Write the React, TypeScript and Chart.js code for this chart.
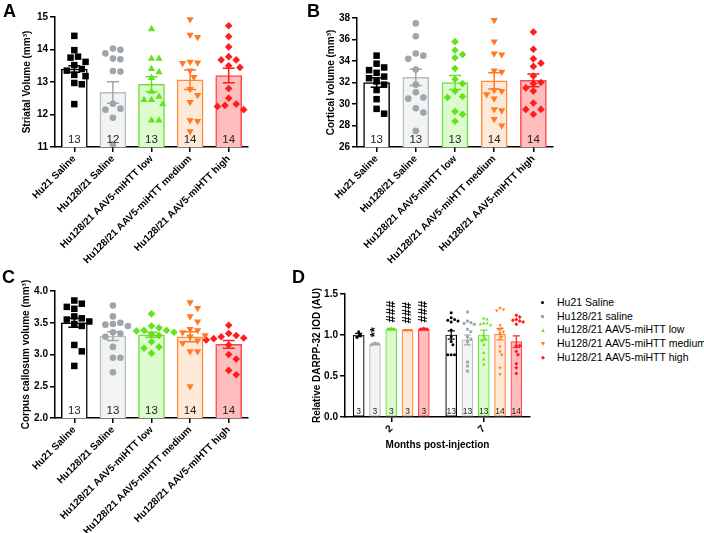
import React, { useEffect, useRef } from "react";
import { Chart, registerables } from "chart.js";
Chart.register(...registerables);

// ---------------- DATA ----------------
const groupNames = [
  "Hu21 Saline",
  "Hu128/21 Saline",
  "Hu128/21 AAV5-miHTT low",
  "Hu128/21 AAV5-miHTT medium",
  "Hu128/21 AAV5-miHTT high",
];
const legendNamesD = [
  "Hu21 Saline",
  "Hu128/21 saline",
  "Hu128/21 AAV5-miHTT low",
  "Hu128/21 AAV5-miHTT medium",
  "Hu128/21 AAV5-miHTT high",
];

// Panel A: striatal volume
const striatalMeans = [13.4, 12.68, 12.93, 13.07, 13.2];
const striatalSem = [0.1, 0.33, 0.23, 0.3, 0.22];
const striatalN = [13, 12, 13, 14, 14];
const striatalHu21 = [14.42, 13.98, 13.78, 13.75, 13.62, 13.52, 13.4, 13.35, 13.22, 13.18, 12.97, 12.93, 12.32];
const striatalSaline = [14.03, 13.99, 13.88, 13.72, 13.7, 13.34, 13.32, 12.33, 12.18, 12.15, 11.9, 11.08];
const striatalLow = [14.63, 13.72, 13.72, 13.4, 13.3, 13.13, 12.7, 12.55, 12.45, 12.45, 12.32, 11.82, 11.82];
const striatalMedium = [14.93, 14.45, 14.38, 13.62, 13.6, 13.58, 13.35, 13.15, 12.78, 12.6, 12.38, 11.82, 11.8, 11.48];
const striatalHigh = [14.73, 14.4, 14.08, 13.78, 13.68, 13.68, 13.5, 13.45, 12.8, 12.5, 12.32, 12.28, 12.25, 12.15];

// Panel B: cortical volume
const corticalMeans = [32.0, 32.48, 32.0, 32.15, 32.2];
const corticalSem = [0.45, 0.75, 0.65, 0.75, 0.6];
const corticalN = [13, 13, 13, 14, 14];
const corticalHu21 = [34.5, 33.75, 33.4, 33.15, 32.9, 32.55, 32.4, 32.1, 31.8, 31.3, 30.45, 29.55, 29.1];
const corticalSaline = [37.5, 36.3, 34.7, 34.5, 34.2, 33.2, 31.8, 31.1, 30.6, 30.5, 29.6, 29.2, 27.5];
const corticalLow = [35.8, 35.0, 34.6, 34.3, 33.3, 32.3, 31.9, 31.2, 30.7, 30.6, 29.3, 29.05, 28.4];
const corticalMedium = [37.8, 35.8, 34.7, 34.6, 33.1, 33.0, 31.3, 31.2, 30.9, 30.5, 29.5, 29.4, 28.6, 28.0];
const corticalHigh = [36.7, 35.1, 34.2, 33.8, 33.5, 32.6, 32.0, 31.9, 31.5, 31.2, 30.1, 29.5, 29.5, 29.05];

// Panel C: corpus callosum volume
const ccMeans = [3.5, 3.29, 3.31, 3.28, 3.16];
const ccSem = [0.07, 0.07, 0.04, 0.08, 0.06];
const ccN = [13, 13, 13, 14, 14];
const ccHu21 = [3.85, 3.8, 3.75, 3.72, 3.6, 3.57, 3.55, 3.52, 3.48, 3.45, 3.15, 3.05, 2.82];
const ccSaline = [3.77, 3.6, 3.5, 3.48, 3.47, 3.45, 3.35, 3.33, 3.28, 3.12, 2.95, 2.95, 2.72];
const ccLow = [3.64, 3.45, 3.42, 3.38, 3.38, 3.37, 3.35, 3.32, 3.3, 3.2, 3.12, 3.1, 3.02];
const ccMedium = [3.82, 3.73, 3.6, 3.52, 3.4, 3.38, 3.35, 3.3, 3.28, 3.22, 3.18, 3.05, 3.05, 2.5];
const ccHigh = [3.46, 3.33, 3.3, 3.28, 3.26, 3.25, 3.24, 3.23, 3.22, 3.15, 3.0, 2.93, 2.75, 2.68];

// Panel D: relative DARPP-32 IOD
const months = ["2", "7"];
const darppMeans = [[1.0, 1.0], [0.89, 0.94], [1.07, 1.0], [1.06, 1.01], [1.07, 0.92]];
const darppSem = [[0.02, 0.05], [0.01, 0.06], [0.01, 0.06], [0.006, 0.07], [0.01, 0.07]];
const darppN = [[3, 13], [3, 13], [3, 13], [3, 14], [3, 14]];
const darpp2m = [
  [1.04, 1.0, 0.97],
  [0.9, 0.88, 0.89],
  [1.08, 1.07, 1.07],
  [1.06, 1.06, 1.06],
  [1.08, 1.07, 1.07],
];
const darpp7m = [
  [1.27, 1.21, 1.19, 1.18, 1.17, 1.16, 1.06, 0.98, 0.92, 0.88, 0.76, 0.76, 0.76],
  [1.28, 1.17, 1.15, 1.14, 1.13, 1.07, 1.04, 0.98, 0.95, 0.92, 0.67, 0.62, 0.56],
  [1.2, 1.19, 1.14, 1.14, 1.13, 1.12, 0.99, 0.95, 0.93, 0.88, 0.78, 0.7, 0.64],
  [1.33, 1.31, 1.3, 1.12, 1.08, 1.07, 1.04, 1.02, 0.98, 0.86, 0.8, 0.76, 0.6, 0.52],
  [1.24, 1.22, 1.19, 1.18, 1.17, 1.16, 1.13, 0.87, 0.87, 0.8, 0.76, 0.65, 0.6, 0.53],
];
const darppSignif2m = ["", "**", "###", "###", "###"];

// ---------------- STYLES ----------------
const FONT = "'Liberation Sans', Arial, Helvetica, sans-serif";
const pointColors = ["#000000", "#9ea6ab", "#62e31c", "#ff7a22", "#ff1c1c"];
const barFills = ["#ffffff", "#f2f4f4", "#dcfbcf", "#fee9d9", "#ffbdbd"];
const barBorders = ["#000000", "#b7bec3", "#72e03c", "#ff8a3c", "#ff4747"];

Chart.defaults.font.family = FONT;
Chart.defaults.color = "#000";

type Mark = { s: string; rot: number; rad: number };

function swarm(values: number[], center: number, pxY: number, pxX: number, diam: number) {
  const placed: { x: number; y: number }[] = [];
  const res: { x: number; y: number }[] = new Array(values.length);
  const order = values.map((v, i) => ({ v, i })).sort((a, b) => b.v - a.v);
  for (const { v, i } of order) {
    const py = v * pxY;
    let chosen = 0;
    for (let k = 0; k < 60; k++) {
      const off = (k % 2 === 1 ? 1 : -1) * Math.ceil(k / 2) * diam * 0.5;
      if (placed.every((p) => Math.hypot(p.x - off, p.y - py) >= diam)) {
        chosen = off;
        break;
      }
    }
    placed.push({ x: chosen, y: py });
    res[i] = { x: center + chosen / pxX, y: v };
  }
  return res;
}

function errPlugin(items: { ds: number; idx: number; mean: number; sem: number; color: string }[], cap: number, lw: number) {
  return {
    id: "errbars",
    afterDatasetsDraw(chart: any) {
      const ctx = chart.ctx;
      const ys = chart.scales.y;
      ctx.save();
      for (const it of items) {
        const el = chart.getDatasetMeta(it.ds).data[it.idx];
        const x = el.x;
        const y1 = ys.getPixelForValue(it.mean + it.sem);
        const y2 = ys.getPixelForValue(it.mean - it.sem);
        ctx.strokeStyle = it.color;
        ctx.lineWidth = lw;
        ctx.beginPath();
        ctx.moveTo(x, y1);
        ctx.lineTo(x, y2);
        ctx.moveTo(x - cap / 2, y1);
        ctx.lineTo(x + cap / 2, y1);
        ctx.moveTo(x - cap / 2, y2);
        ctx.lineTo(x + cap / 2, y2);
        ctx.stroke();
      }
      ctx.restore();
    },
  };
}

function countPlugin(items: { ds: number; idx: number; text: string }[], size: number, gap: number) {
  return {
    id: "counts",
    afterDatasetsDraw(chart: any) {
      const ctx = chart.ctx;
      const bottom = chart.chartArea.bottom;
      ctx.save();
      ctx.fillStyle = "#222";
      ctx.font = `${size}px ${FONT}`;
      ctx.textAlign = "center";
      ctx.textBaseline = "alphabetic";
      for (const it of items) {
        const el = chart.getDatasetMeta(it.ds).data[it.idx];
        ctx.fillText(it.text, el.x, bottom - gap);
      }
      ctx.restore();
    },
  };
}

function signifPlugin(items: { ds: number; idx: number; mean: number; sem: number; text: string }[]) {
  return {
    id: "signif",
    afterDatasetsDraw(chart: any) {
      const ctx = chart.ctx;
      const ys = chart.scales.y;
      ctx.save();
      ctx.fillStyle = "#000";
      ctx.font = `bold 13px ${FONT}`;
      ctx.textAlign = "left";
      ctx.textBaseline = "middle";
      for (const it of items) {
        if (!it.text) continue;
        const el = chart.getDatasetMeta(it.ds).data[it.idx];
        const y = ys.getPixelForValue(it.mean + it.sem) - 6;
        ctx.save();
        ctx.translate(el.x, y);
        ctx.rotate(-Math.PI / 2);
        ctx.fillText(it.text, 0, 0);
        ctx.restore();
      }
      ctx.restore();
    },
  };
}

function axisCommon() {
  return {
    grid: { drawOnChartArea: false, drawTicks: true, tickLength: 5, color: "#000", lineWidth: 1.5 },
    border: { display: true, color: "#000", width: 1.5 },
  };
}

function scatterSet(data: any[], m: Mark, color: string) {
  return {
    type: "scatter",
    data,
    xAxisID: "xs",
    yAxisID: "y",
    pointStyle: m.s,
    pointRotation: m.rot,
    pointRadius: m.rad,
    backgroundColor: color,
    borderColor: color,
    pointBackgroundColor: color,
    pointBorderColor: color,
    pointBorderWidth: 0,
    borderWidth: 0,
    showLine: false,
    order: 0,
  };
}

function yTitle(text: string) {
  return {
    display: true,
    text,
    color: "#000",
    font: { size: 10, weight: "bold" },
    padding: { top: 4, bottom: 2 },
  };
}

function barPanel(o: {
  means: number[];
  sems: number[];
  ns: number[];
  points: number[][];
  marks: Mark[];
  yMin: number;
  yMax: number;
  yStep: number;
  dec: number;
  yTitle: string;
  pad: { left: number; top: number; right: number; bottom: number };
  yWidth: number;
  xHeight: number;
  pxY: number;
  pxX: number;
}) {
  const datasets: any[] = [
    {
      type: "bar",
      data: o.means,
      backgroundColor: barFills,
      borderColor: barBorders,
      borderWidth: 1.5,
      borderSkipped: false,
      grouped: false,
      barThickness: 26,
      xAxisID: "x",
      yAxisID: "y",
      order: 1,
    },
  ];
  o.points.forEach((vals, g) => {
    datasets.push(scatterSet(swarm(vals, g, o.pxY, o.pxX, 7.5), o.marks[g], pointColors[g]));
  });
  const ax = axisCommon();
  return {
    type: "bar",
    data: { labels: groupNames, datasets },
    options: {
      responsive: false,
      animation: false,
      events: [],
      layout: { padding: o.pad },
      plugins: { legend: { display: false }, tooltip: { enabled: false } },
      scales: {
        x: {
          type: "category",
          offset: true,
          grid: { ...ax.grid, offset: false },
          border: ax.border,
          ticks: {
            minRotation: 45,
            maxRotation: 45,
            autoSkip: false,
            color: "#000",
            padding: 1,
            font: { size: 10, weight: "bold" },
          },
          afterFit: (s: any) => {
            s.height = o.xHeight;
          },
        },
        xs: { type: "linear", display: false, min: -0.5, max: 4.5, offset: false },
        y: {
          type: "linear",
          min: o.yMin,
          max: o.yMax,
          grid: ax.grid,
          border: ax.border,
          ticks: {
            stepSize: o.yStep,
            color: "#000",
            padding: 2,
            font: { size: 10, weight: "bold" },
            callback: (v: any) => Number(v).toFixed(o.dec),
          },
          title: yTitle(o.yTitle),
          afterFit: (s: any) => {
            s.width = o.yWidth;
          },
        },
      },
    },
    plugins: [
      errPlugin(
        o.means.map((m, i) => ({ ds: 0, idx: i, mean: m, sem: o.sems[i], color: pointColors[i] })),
        12,
        1.5
      ),
      countPlugin(o.ns.map((n, i) => ({ ds: 0, idx: i, text: String(n) })), 11.5, 4),
    ],
  };
}

const marksA: Mark[] = [
  { s: "rect", rot: 0, rad: 4.6 },
  { s: "circle", rot: 0, rad: 3.3 },
  { s: "triangle", rot: 0, rad: 4.2 },
  { s: "triangle", rot: 180, rad: 4.2 },
  { s: "rectRot", rot: 0, rad: 3.8 },
];
const marksBC: Mark[] = [
  { s: "rect", rot: 0, rad: 4.6 },
  { s: "circle", rot: 0, rad: 3.3 },
  { s: "rectRot", rot: 0, rad: 3.8 },
  { s: "triangle", rot: 180, rad: 4.2 },
  { s: "rectRot", rot: 0, rad: 3.8 },
];
const marksD: Mark[] = [
  { s: "circle", rot: 0, rad: 1.5 },
  { s: "rect", rot: 0, rad: 2 },
  { s: "triangle", rot: 0, rad: 2 },
  { s: "triangle", rot: 180, rad: 2 },
  { s: "rectRot", rot: 0, rad: 2 },
];

function panelD() {
  const slot = 0.88 / 5;
  const datasets: any[] = [];
  darppMeans.forEach((m, g) => {
    datasets.push({
      type: "bar",
      label: legendNamesD[g],
      data: m.map((v, i) => ({ x: i + (g - 2) * slot, y: v })),
      backgroundColor: barFills[g],
      borderColor: barBorders[g],
      borderWidth: 1.2,
      borderSkipped: false,
      grouped: false,
      barThickness: 11,
      xAxisID: "xs",
      yAxisID: "y",
      order: 1,
    });
  });
  darppMeans.forEach((_, g) => {
    const off = (g - 2) * slot;
    const pts = [
      ...swarm(darpp2m[g], 0 + off, 82, 92.5, 3.4),
      ...swarm(darpp7m[g], 1 + off, 82, 92.5, 3.4),
    ];
    datasets.push(scatterSet(pts, marksD[g], pointColors[g]));
  });
  const ax = axisCommon();
  const errs: any[] = [];
  const counts: any[] = [];
  const sig: any[] = [];
  darppMeans.forEach((m, g) => {
    m.forEach((v, i) => {
      errs.push({ ds: g, idx: i, mean: v, sem: darppSem[g][i], color: pointColors[g] });
      counts.push({ ds: g, idx: i, text: String(darppN[g][i]) });
    });
    sig.push({ ds: g, idx: 0, mean: m[0], sem: darppSem[g][0], text: darppSignif2m[g] });
  });
  return {
    type: "bar",
    data: { labels: months, datasets },
    options: {
      responsive: false,
      animation: false,
      events: [],
      layout: { padding: { left: 7, top: 19, right: 10, bottom: 78 } },
      plugins: { legend: { display: false }, tooltip: { enabled: false } },
      scales: {
        x: {
          type: "category",
          labels: months,
          offset: true,
          grid: { ...ax.grid, offset: false },
          border: ax.border,
          ticks: {
            minRotation: 45,
            maxRotation: 45,
            autoSkip: false,
            color: "#000",
            padding: 1,
            font: { size: 10, weight: "bold" },
          },
          title: {
            display: true,
            text: "Months post-injection",
            color: "#000",
            font: { size: 10, weight: "bold" },
            padding: { top: 4, bottom: 4 },
          },
          afterFit: (s: any) => {
            s.height = 38;
          },
        },
        xs: { type: "linear", display: false, min: -0.5, max: 1.5, offset: false },
        y: {
          type: "linear",
          min: 0,
          max: 1.5,
          grid: ax.grid,
          border: ax.border,
          ticks: {
            stepSize: 0.5,
            color: "#000",
            padding: 2,
            font: { size: 10, weight: "bold" },
            callback: (v: any) => Number(v).toFixed(1),
          },
          title: yTitle("Relative DARPP-32 IOD (AU)"),
          afterFit: (s: any) => {
            s.width = 38;
          },
        },
      },
    },
    plugins: [errPlugin(errs, 7, 1.2), countPlugin(counts, 8.5, 3), signifPlugin(sig)],
  };
}

const letterStyle: React.CSSProperties = {
  position: "absolute",
  fontFamily: FONT,
  fontWeight: "bold",
  fontSize: 18,
  lineHeight: "18px",
  color: "#000",
};

function LegendMarker({ g }: { g: number }) {
  const c = pointColors[g];
  const base: React.CSSProperties = { position: "absolute", left: 0, top: 5, width: 3, height: 3, background: c };
  if (g === 0) return <div style={{ ...base, borderRadius: "50%" }} />;
  if (g === 1) return <div style={base} />;
  if (g === 2) return <div style={{ ...base, width: 4, height: 4, clipPath: "polygon(50% 0, 100% 100%, 0 100%)" }} />;
  if (g === 3) return <div style={{ ...base, width: 4, height: 4, clipPath: "polygon(0 0, 100% 0, 50% 100%)" }} />;
  return <div style={{ ...base, width: 4, height: 4, clipPath: "polygon(50% 0, 100% 50%, 50% 100%, 0 50%)" }} />;
}

export default function App() {
  const refA = useRef<HTMLCanvasElement>(null);
  const refB = useRef<HTMLCanvasElement>(null);
  const refC = useRef<HTMLCanvasElement>(null);
  const refD = useRef<HTMLCanvasElement>(null);

  useEffect(() => {
    const charts: Chart[] = [];
    charts.push(
      new Chart(
        refA.current!,
        barPanel({
          means: striatalMeans,
          sems: striatalSem,
          ns: striatalN,
          points: [striatalHu21, striatalSaline, striatalLow, striatalMedium, striatalHigh],
          marks: marksA,
          yMin: 11,
          yMax: 15,
          yStep: 1,
          dec: 0,
          yTitle: "Striatal Volume (mm³)",
          pad: { left: 17, top: 17, right: 17, bottom: 0 },
          yWidth: 38,
          xHeight: 123,
          pxY: 32.5,
          pxX: 38.6,
        }) as any
      )
    );
    charts.push(
      new Chart(
        refB.current!,
        barPanel({
          means: corticalMeans,
          sems: corticalSem,
          ns: corticalN,
          points: [corticalHu21, corticalSaline, corticalLow, corticalMedium, corticalHigh],
          marks: marksBC,
          yMin: 26,
          yMax: 38,
          yStep: 2,
          dec: 0,
          yTitle: "Cortical volume (mm³)",
          pad: { left: 21, top: 18, right: 17, bottom: 0 },
          yWidth: 36,
          xHeight: 123,
          pxY: 10.75,
          pxX: 39,
        }) as any
      )
    );
    charts.push(
      new Chart(
        refC.current!,
        barPanel({
          means: ccMeans,
          sems: ccSem,
          ns: ccN,
          points: [ccHu21, ccSaline, ccLow, ccMedium, ccHigh],
          marks: marksBC,
          yMin: 2,
          yMax: 4,
          yStep: 0.5,
          dec: 1,
          yTitle: "Corpus callosum volume (mm³)",
          pad: { left: 16, top: 21, right: 17, bottom: 0 },
          yWidth: 39,
          xHeight: 115,
          pxY: 63.5,
          pxX: 38.6,
        }) as any
      )
    );
    charts.push(new Chart(refD.current!, panelD() as any));
    return () => charts.forEach((c) => c.destroy());
  }, []);

  return (
    <div style={{ position: "absolute", left: 0, top: 0, width: 704, height: 533, background: "#fff", overflow: "hidden" }}>
      <canvas ref={refA} width={265} height={270} style={{ position: "absolute", left: 0, top: 0 }} />
      <canvas ref={refB} width={270} height={270} style={{ position: "absolute", left: 300, top: 0 }} />
      <canvas ref={refC} width={265} height={263} style={{ position: "absolute", left: 0, top: 270 }} />
      <canvas ref={refD} width={240} height={258} style={{ position: "absolute", left: 300, top: 275 }} />
      <div style={{ ...letterStyle, left: 3, top: 2 }}>A</div>
      <div style={{ ...letterStyle, left: 307, top: 2 }}>B</div>
      <div style={{ ...letterStyle, left: 2, top: 268 }}>C</div>
      <div style={{ ...letterStyle, left: 292, top: 268 }}>D</div>
      <div style={{ position: "absolute", left: 541, top: 296, fontFamily: FONT, fontSize: 10.5, color: "#000" }}>
        {legendNamesD.map((n, g) => (
          <div key={n} style={{ position: "relative", height: 13.7, lineHeight: "13.7px", paddingLeft: 16, whiteSpace: "nowrap" }}>
            <LegendMarker g={g} />
            {n}
          </div>
        ))}
      </div>
    </div>
  );
}
